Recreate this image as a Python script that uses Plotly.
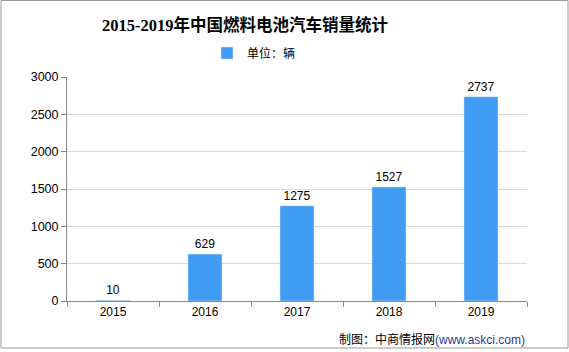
import plotly.graph_objects as go

years = ["2015", "2016", "2017", "2018", "2019"]
sales = [10, 629, 1275, 1527, 2737]
y_ticks = [0, 500, 1000, 1500, 2000, 2500, 3000]

font_sans = "Liberation Sans, Noto Sans CJK SC, sans-serif"

fig = go.Figure()
fig.add_trace(go.Bar(
    x=years, y=sales, name="单位：辆",
    marker=dict(color="#3f9cf2"),
    width=0.37,
    text=[str(v) for v in sales], textposition="outside",
    textfont=dict(size=12, color="#000000", family=font_sans),
    cliponaxis=False,
))

fig.update_layout(
    width=569, height=352,
    margin=dict(l=67, r=42, t=77, b=51, autoexpand=False),
    paper_bgcolor="white", plot_bgcolor="white",
    title=dict(text="<b>2015-2019年中国燃料电池汽车销量统计</b>",
               x=245/569, xanchor="center", y=1 - 25/352, yanchor="middle",
               font=dict(size=16.5, color="#000000",
                         family="Liberation Serif, Noto Sans CJK SC, serif")),
    showlegend=True,
    legend=dict(orientation="h", x=254/569, xref="container", xanchor="center",
                y=1 - 53/352, yref="container",
                yanchor="middle", font=dict(size=12, color="#000000", family=font_sans),
                itemwidth=30),
    font=dict(family=font_sans, size=12, color="#000000"),
    bargap=0.6,
)
fig.update_xaxes(showline=True, linecolor="#888888", linewidth=1,
                 ticks="outside", tickson="boundaries", ticklen=5, tickcolor="#888888",
                 tickfont=dict(size=12, color="#000000"))
fig.update_yaxes(range=[0, 3000], tickvals=y_ticks, showline=True, linecolor="#888888",
                 linewidth=1, ticks="outside", ticklen=5, tickcolor="#888888",
                 showgrid=True, gridcolor="#d9d9d9", zeroline=False,
                 tickfont=dict(size=12.5, color="#000000"))

fig.add_annotation(text="制图：中商情报网<span style='color:#1f3a93'>(www.askci.com)</span>",
                   xref="paper", yref="paper", x=1.0, y=-(339-301)/224,
                   xanchor="right", yanchor="middle", showarrow=False,
                   font=dict(size=12, color="#000000", family="Liberation Sans, Noto Sans CJK SC"))

fig.add_shape(type="rect", xref="paper", yref="paper",
              x0=(1-67)/460, x1=(568-67)/460, y0=(301-348)/224, y1=1 + 76.5/224,
              line=dict(color="#999999", width=1))

fig.write_html("out.html")
